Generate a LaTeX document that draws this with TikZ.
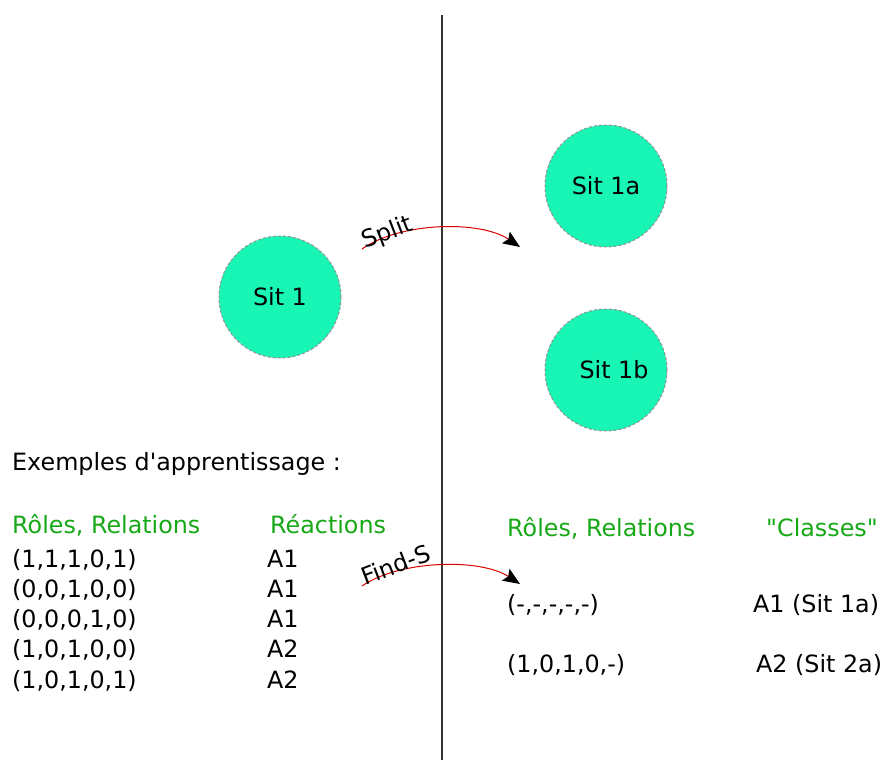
\documentclass[tikz,border=0pt]{standalone}
\usepackage{fontspec}
\setmainfont{DejaVu Sans}[Ligatures=TeXOff]
\usetikzlibrary{arrows.meta}
\definecolor{sitfill}{RGB}{24,245,180}
\definecolor{hdgreen}{RGB}{22,168,22}
\definecolor{arcred}{RGB}{220,0,0}

\begin{document}
\begin{tikzpicture}[x=1pt, y=-1pt, font=\fontsize{23.8}{28}\selectfont,
  sit/.style={circle, draw=gray!85, line width=1pt, fill=sitfill, dash pattern=on 3pt off 2pt, minimum size=122pt, inner sep=0pt},
  txt/.style={anchor=base west, inner sep=0pt},
  hd/.style={txt, text=hdgreen},
  arc/.style={draw=arcred, line width=1pt, -{Stealth[black, length=17pt, width=14pt, inset=3pt]}},
  lbl/.style={anchor=base west, inner sep=0pt, rotate=21}]
\useasboundingbox (0,0) rectangle (883,760);
% separation line
\coordinate (top) at (442,15);
\coordinate (bot) at (442,760);
\draw[line width=1.2pt, black!80] (top) -- (bot);
% situations
\node[sit] (s1) at (280,297) {Sit 1};
\node[sit] (s1a) at (606,186) {Sit 1a};
\node[sit] (s1b) at (606,370) {\hspace{16pt}Sit 1b};
% split
\coordinate (sp0) at (362,249);
\coordinate (sp1) at (520,247);
\draw[arc] (sp0) .. controls (400,222) and (480,220) .. (sp1);
\node[lbl] (split) at (365,249) {Split};
% learning examples
\node[txt] (ex) at (12,470) {Exemples d'apprentissage :};
\node[hd] (rl) at (12,533) {Rôles, Relations};
\node[hd] (re) at (270,533) {Réactions};
\node[txt] (e1) at (12,567) {(1,1,1,0,1)};
\node[txt] (e2) at (12,597) {(0,0,1,0,0)};
\node[txt] (e3) at (12,627) {(0,0,0,1,0)};
\node[txt] (e4) at (12,657) {(1,0,1,0,0)};
\node[txt] (e5) at (12,688) {(1,0,1,0,1)};
\node[txt] (a1) at (267,567) {A1};
\node[txt] (a2) at (267,597) {A1};
\node[txt] (a3) at (267,627) {A1};
\node[txt] (a4) at (267,657) {A2};
\node[txt] (a5) at (267,688) {A2};
% find-s
\coordinate (fs0) at (362,586);
\coordinate (fs1) at (520,584);
\draw[arc] (fs0) .. controls (400,560) and (480,558) .. (fs1);
\node[lbl] (finds) at (365,586) {Find-S};
% result
\node[hd] (rl2) at (507,536) {Rôles, Relations};
\node[hd] (cl) at (766,536) {"Classes"};
\node[txt] (h1) at (507,612) {(-,-,-,-,-)};
\node[txt] (h2) at (507,672) {(1,0,1,0,-)};
\node[txt] (c1) at (753,612) {A1 (Sit 1a)};
\node[txt] (c2) at (756,672) {A2 (Sit 2a)};
\end{tikzpicture}
\end{document}
